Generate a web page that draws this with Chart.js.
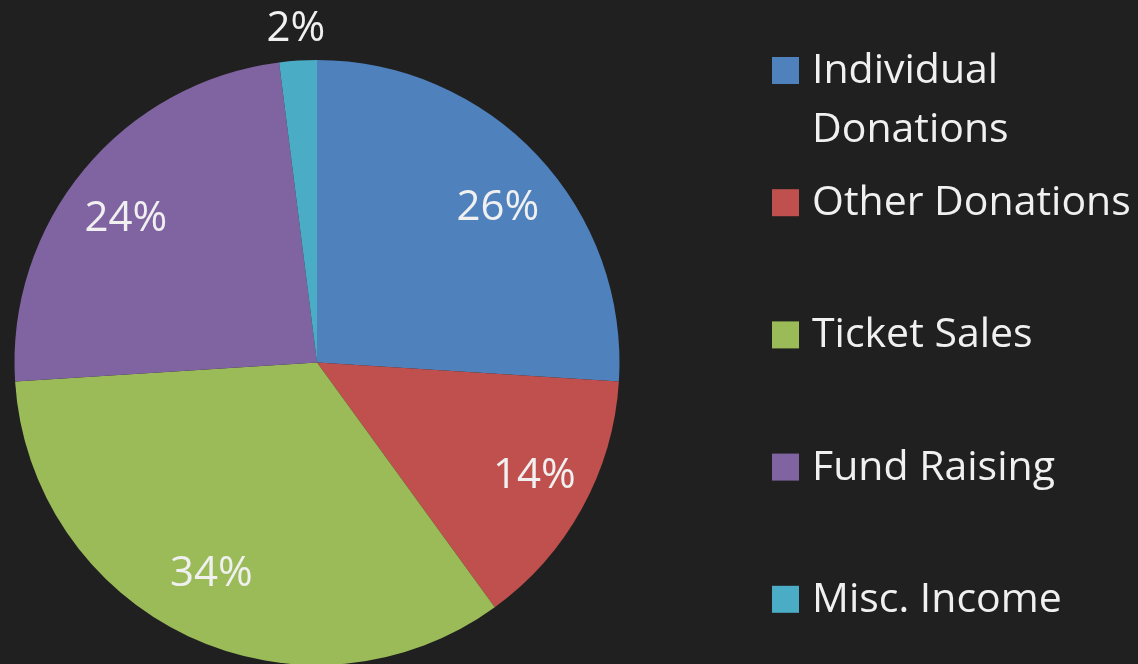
<!DOCTYPE html>
<html>
<head>
<meta charset="utf-8">
<script src="https://cdn.jsdelivr.net/npm/chart.js@4.4.1/dist/chart.umd.min.js"></script>
<style>
    html, body { margin: 0; padding: 0; background: #202020; overflow: hidden; }
    #wrap { width: 1138px; height: 668px; }
</style>
</head>
<body>
<div id="wrap"><canvas id="pieChart" width="1138" height="668"></canvas></div>
<script>
const categories = ['Individual Donations', 'Other Donations', 'Ticket Sales', 'Fund Raising', 'Misc. Income'];
const shares = [26, 14, 34, 24, 2];
const sliceColors = ['#4f81bd', '#c0504d', '#9bbb59', '#8064a2', '#4bacc6'];

const textColor = '#f0f0f0';
const fontFamily = '"Open Sans", sans-serif';
const labelSize = 42;
const labelFont = labelSize + 'px ' + fontFamily;
const legendFont = '41px ' + fontFamily;

// Percentage labels inside the slices (small ones go outside)
const sliceLabels = {
    id: 'sliceLabels',
    afterDatasetsDraw(chart) {
        const ctx = chart.ctx;
        const meta = chart.getDatasetMeta(0);
        const total = shares.reduce((a, b) => a + b, 0);
        const capHalf = labelSize * 0.714 / 2;
        ctx.save();
        ctx.font = labelFont;
        ctx.fillStyle = textColor;
        ctx.textAlign = 'center';
        ctx.textBaseline = 'alphabetic';
        meta.data.forEach((arc, i) => {
            const p = arc.getProps(['x', 'y', 'startAngle', 'endAngle', 'outerRadius']);
            const mid = (p.startAngle + p.endAngle) / 2;
            const pct = Math.round(shares[i] / total * 100);
            // wide labels sit a bit further out sideways than up/down
            const rx = pct < 5 ? p.outerRadius * 1.116 : p.outerRadius * 0.82;
            const ry = pct < 5 ? p.outerRadius * 1.116 : p.outerRadius * 0.76;
            const cx = p.x + Math.cos(mid) * rx;
            const cy = p.y + Math.sin(mid) * ry;
            ctx.fillText(pct + '%', cx, cy + capHalf);
        });
        ctx.restore();
    }
};

// Legend on the right, wrapped the way the original does it
const sideLegend = {
    id: 'sideLegend',
    afterDraw(chart) {
        const ctx = chart.ctx;
        const boxX = 772, textX = 812, maxW = 326;
        const firstBaseline = 83, rowStep = 132.2, lineStep = 59;
        ctx.save();
        ctx.font = legendFont;
        ctx.textAlign = 'left';
        ctx.textBaseline = 'alphabetic';
        categories.forEach((name, i) => {
            const base = firstBaseline + rowStep * i;
            ctx.fillStyle = sliceColors[i];
            ctx.fillRect(boxX, base - 26, 27, 27);
            // simple word wrap
            const words = name.split(' ');
            const lines = [];
            let line = '';
            words.forEach(w => {
                const test = line ? line + ' ' + w : w;
                if (line && ctx.measureText(test).width > maxW) {
                    lines.push(line);
                    line = w;
                } else {
                    line = test;
                }
            });
            lines.push(line);
            ctx.fillStyle = textColor;
            lines.forEach((l, j) => ctx.fillText(l, textX, base + j * lineStep));
        });
        ctx.restore();
    }
};

function drawChart() {
    new Chart(document.getElementById('pieChart').getContext('2d'), {
        type: 'pie',
        data: {
            labels: categories,
            datasets: [{
                data: shares,
                backgroundColor: sliceColors,
                borderWidth: 0,
                hoverOffset: 0
            }]
        },
        options: {
            responsive: false,
            animation: false,
            layout: {
                padding: { left: 14, right: 518, top: 60, bottom: 3 }
            },
            plugins: {
                legend: { display: false },
                tooltip: { enabled: false }
            }
        },
        plugins: [sliceLabels, sideLegend]
    });
}

// make sure the font is ready before the single (non-animated) draw
Promise.all([document.fonts.load(labelFont), document.fonts.load(legendFont)]).then(drawChart, drawChart);
</script>
</body>
</html>
